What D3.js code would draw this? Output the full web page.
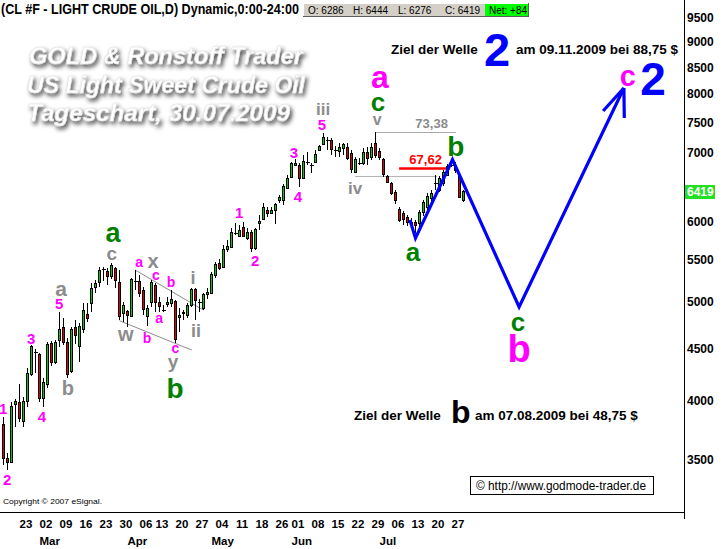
<!DOCTYPE html>
<html><head><meta charset="utf-8">
<script src="https://cdn.jsdelivr.net/npm/d3@7"></script>
<style>body{margin:0;background:#fff}svg{display:block}text{font-family:Arial,"Liberation Sans",sans-serif}</style>
</head><body><svg id="c" width="725" height="549"></svg>
<script>
// ---- data (CL #F daily candles, values in cents) ----
const opens  = [3788,3508,3484,3972,3981,3814,3999,4241,4472,4437,4026,4155,4549,4367,4580,4726,4559,4279,4726,4518,4705,4867,4989,5173,5221,5393,5363,5292,5399,5221,4878,4900,4845,5250,5244,5138,4845,5001,5197,5001,4917,4978,4989,5012,4824,4878,4856,4967,5150,5006,4933,5092,5104,5304,5461,5412,5637,5662,5845,5805,5924,5778,5845,5650,5978,6032,6156,6115,6156,6296,6296,6469,6632,6815,6815,6617,6861,6815,6861,7049,7146,7210,7210,7049,7033,7081,7097,7002,6708,6853,6846,7017,6939,7162,7033,6908,6647,6543,6411,6170,6115,6059,5951,5991,5978,6128,6198,6325,6543,6440,6543,6662,6815,6815,6662,6286];
const highs  = [3857,3556,3990,4017,4155,4035,4309,4539,4497,4457,4212,4569,4580,4590,4889,4824,4611,4726,4802,4770,4989,4989,5221,5256,5412,5412,5399,5461,5410,5375,5001,4911,5280,5375,5316,5173,4967,5256,5221,5058,4967,5058,5138,5023,4933,4911,4989,5162,5160,5035,5104,5162,5351,5473,5511,5688,5752,5911,5978,5951,5991,5911,5884,5911,6087,6254,6198,6198,6254,6368,6528,6662,6861,6908,6846,6971,7017,6846,7049,7129,7325,7258,7242,7113,7162,7162,7162,7049,6939,6923,7081,7097,7162,7338,7081,6923,6662,6558,6440,6198,6142,6087,6045,6018,6156,6296,6397,6440,6662,6647,6738,6830,6908,6861,6693,6444];
const lows   = [3461,3422,3477,3771,3814,3771,3945,4231,4260,3990,3945,4118,4328,4348,4518,4539,4212,4260,4549,4367,4663,4780,4889,5104,5173,5244,5197,5268,5162,4802,4780,4726,4835,5138,5058,4856,4737,4945,4889,4889,4889,4945,4945,4559,4673,4802,4824,4945,4802,4889,4911,5035,5092,5280,5375,5399,5599,5650,5818,5792,5792,5752,5599,5624,5884,6018,6059,6101,5964,6254,6226,6469,6632,6800,6484,6602,6815,6693,6846,7033,7129,7049,6971,6939,6939,6971,6892,6693,6693,6815,6815,6815,6892,6923,6892,6632,6543,6368,6240,5991,5951,5938,5911,5850,5884,6073,6156,6254,6440,6411,6499,6647,6784,6693,6325,6276];
const closes = [3508,3477,3954,3999,3848,3999,4251,4528,4472,4026,4165,4539,4367,4559,4705,4569,4241,4705,4632,4737,4911,4813,5162,5209,5375,5393,5292,5436,5256,4845,4967,4856,5268,5250,5104,4922,4933,5221,5001,4956,4917,5001,5035,4600,4856,4889,4967,5150,5023,5006,5092,5115,5316,5449,5399,5637,5675,5858,5845,5884,5805,5845,5650,5897,6005,6198,6115,6156,6240,6339,6499,6617,6846,6846,6617,6877,6861,6815,6986,7113,7258,7210,7065,7049,7097,7146,6923,6753,6908,6853,7017,6923,7097,6971,6939,6678,6558,6397,6296,6018,6032,5991,5991,5951,6128,6268,6354,6397,6543,6617,6708,6800,6815,6738,6339,6419];
const priceTicks = [3500,4000,4500,5000,5500,6000,6500,7000,7500,8000,8500,9000,9500];
const dayLabels = ["23","02","09","16","23","30","06","13","20","27","04","11","18","26","01","08","15","22","29","06","13","20","27"];
const dayIdx    = [5,10,15,20,25,30,35,39,44,49,54,59,64,69,73,78,83,88,93,98,103,108,113];
const monthLabels = ["Mar","Apr","May","Jun","Jul"];
const monthIdx    = [10,32,53,73,95];
const quote = {O:6286,H:6444,L:6276,C:6419,Net:84};
// annotations: [text, colour, size, candle index, price]
const labels = [
 ["1","M",15,-0.1,3927],["2","M",15,0.9,3346],["3","M",15,6.9,4600],["4","M",15,9.6,3857],["5","M",15,13.9,4978],
 ["a","R",21,14.4,5135],["b","R",20,16.1,4118],["c","R",19,27.1,5560],["a","G",27,27.4,5815],
 ["a","M",14,33.9,5461],["x","R",20,37.4,5461],["c","M",14,38.1,5304],["b","M",14,41.9,5233],["a","M",14,38.9,4813],
 ["w","R",20,30.6,4632],["b","M",14,35.9,4611],["c","M",14,43.0,4490],["y","R",19,42.4,4335],["b","G",28,42.9,4120],
 ["i","R",18,47.4,5280],["ii","R",18,48.1,4694],
 ["1","M",15,58.9,6115],["2","M",15,62.9,5486],["3","M",15,72.6,7002],["4","M",15,73.6,6339],["5","M",15,79.6,7459],
 ["iii","R",17,79.9,7734],["a","M",32,94.1,8258],["c","G",26,93.6,7822],["v","R",16,93.4,7527],["iv","R",17,87.9,6469],
 ["b","G",28,113.1,7113],["a","G",26,102.4,5573],["c","G",26,128.6,4758],["b","M",38,128.9,4508],
 ["c","M",29,156.1,8295],["2","B",46,162.4,8295]
];
const levels = [ // [label, price, from idx, to idx, colour, width]
 ["73,38",7338,93,113.1,"#A8A8A8",1],["67,62",6762,98.9,111.6,"#FF0000",2.5],["",6647,87.9,108.4,"#B4B4B4",1]
];
const trendLines = [[[29,4794],[47.05,4487]],[[32.95,5375],[49.95,4911]]];
const wavePath = [[101.6,6018],[103,5778],[112.25,6900],[128.9,4945],[155.1,8110]];
const arrowBarbs = [[149.9,7699],[155.2,7578]];

const colours = {M:"#FF00FF",G:"#008000",R:"#8C8C8C",B:"#0000FF",K:"#000000"};
const svg = d3.select("#c");
const x = d3.scaleLinear().domain([0,115]).range([3.5,463.5]);
const y = d3.scaleLog().domain([3500,9500]).range([460,18]);
const candles = opens.map((o,i)=>({i,o,h:highs[i],l:lows[i],c:closes[i]}));

// title with blurred drop shadow (single text element per line)
const defs = svg.append("defs");
const f = defs.append("filter").attr("id","sh").attr("x","-10%").attr("y","-40%").attr("width","125%").attr("height","190%");
f.append("feGaussianBlur").attr("in","SourceAlpha").attr("stdDeviation",2).attr("result","b");
f.append("feOffset").attr("in","b").attr("dx",2).attr("dy",2.5).attr("result","o");
f.append("feFlood").attr("flood-color","#2a2a2a").attr("flood-opacity",0.9).attr("result","fl");
f.append("feComposite").attr("in","fl").attr("in2","o").attr("operator","in").attr("result","s");
const fm = f.append("feMerge"); fm.append("feMergeNode").attr("in","s"); fm.append("feMergeNode").attr("in","SourceGraphic");
const titles = [["GOLD & Ronstoff Trader",29,274],["US Light Sweet Crude Oil",27,278],["Tageschart, 30.07.2009",27,263]];
titles.forEach(([t,xx,len],k)=>{
  svg.append("text").attr("x",xx).attr("y",64+k*28.5).text(t).attr("fill","#fff").attr("stroke","#dcdcdc").attr("stroke-width",0.5)
    .attr("filter","url(#sh)").attr("textLength",len).attr("lengthAdjust","spacingAndGlyphs")
    .attr("font-size",23.5).attr("font-weight","bold").attr("font-style","italic");
});

// header
svg.append("text").attr("x",1).attr("y",14).text("(CL #F - LIGHT CRUDE OIL,D) Dynamic,0:00-24:00")
  .attr("font-size",14).attr("font-weight","bold").attr("textLength",298).attr("lengthAdjust","spacingAndGlyphs");
const hb = svg.append("g").attr("shape-rendering","crispEdges");
hb.append("rect").attr("x",303).attr("y",3).attr("width",226).attr("height",14).attr("fill","#D4D0C8");
hb.append("path").attr("d","M303.5,17V3.5H529").attr("stroke","#fff").attr("fill","none");
hb.append("path").attr("d","M303,16.5H528.5V3").attr("stroke","#606060").attr("fill","none");
hb.append("rect").attr("x",485).attr("y",4).attr("width",43).attr("height",12).attr("fill","#00FF00");
[["O: "+quote.O,308],["H: "+quote.H,353],["L: "+quote.L,398],["C: "+quote.C,445],["Net: +"+quote.Net,489]].forEach(([t,xx])=>{
  svg.append("text").attr("x",xx).attr("y",14).text(t).attr("font-size",10).attr("fill","#000");
});

// gray channel lines & levels
const line = d3.line().x(d=>x(d[0])).y(d=>y(d[1]));
trendLines.forEach(tl=>svg.append("path").attr("d",line(tl)).attr("stroke","#8C8C8C").attr("fill","none").attr("stroke-width",1));
levels.forEach(([t,p,a,b,col,w])=>{
  svg.append("line").attr("x1",x(a)).attr("x2",x(b)).attr("y1",Math.round(y(p))+0.5).attr("y2",Math.round(y(p))+0.5)
    .attr("stroke",col).attr("stroke-width",w);
  if(t) svg.append("text").attr("x",x(b)-8).attr("y",y(p)-4).attr("text-anchor","end").text(t)
    .attr("font-size",13).attr("font-weight","bold").attr("fill",col==="#FF0000"?"#FF0000":"#8C8C8C");
});

// candles
const cg = svg.append("g").attr("shape-rendering","crispEdges");
cg.selectAll("line.w").data(candles).join("line").attr("class","w")
  .attr("x1",d=>x(d.i)).attr("x2",d=>x(d.i)).attr("y1",d=>y(d.h)).attr("y2",d=>y(d.l)).attr("stroke","#000");
cg.selectAll("rect.b").data(candles.filter(d=>d.o!==d.c)).join("rect").attr("class","b")
  .attr("x",d=>x(d.i)-1).attr("width",2)
  .attr("y",d=>y(Math.max(d.o,d.c))).attr("height",d=>Math.max(1,y(Math.min(d.o,d.c))-y(Math.max(d.o,d.c))))
  .attr("fill",d=>d.c>d.o?"#00CC00":"#DD0000").attr("stroke","#000");
cg.selectAll("line.d").data(candles.filter(d=>d.o===d.c)).join("line").attr("class","d")
  .attr("x1",d=>x(d.i)-2).attr("x2",d=>x(d.i)+2).attr("y1",d=>Math.round(y(d.o))+0.5).attr("y2",d=>Math.round(y(d.o))+0.5).attr("stroke","#000");

// blue wave projection
svg.append("path").attr("d",line(wavePath)).attr("stroke","#0000FF").attr("stroke-width",3.2).attr("fill","none").attr("stroke-linejoin","miter");
const tip = wavePath[wavePath.length-1];
arrowBarbs.forEach(b=>svg.append("path").attr("d",line([b,tip])).attr("stroke","#0000FF").attr("stroke-width",3.2).attr("fill","none"));

// wave labels
labels.forEach(([t,c,s,i,p])=>{
  const xh = /^[acvwx]+$/.test(t), desc = t==="y";
  svg.append("text").attr("x",x(i)).attr("y",y(p)).attr("dy",desc?"0.16em":xh?"0.26em":"0.36em")
    .attr("text-anchor","middle").attr("font-size",s).attr("font-weight","bold").attr("fill",colours[c]).text(t);
});

// target texts
const tgt = (yy,letter,col,size,x1,x2,x3,yb,rest)=>{
  svg.append("text").attr("x",x1).attr("y",yy).text("Ziel der Welle").attr("font-size",13.5).attr("font-weight","bold");
  svg.append("text").attr("x",x2).attr("y",yb).text(letter).attr("font-size",size).attr("font-weight","bold").attr("fill",col);
  svg.append("text").attr("x",x3).attr("y",yy).text(rest).attr("font-size",13.5).attr("font-weight","bold");
};
tgt(54,"2","#0000FF",47,391,484,516,66,"am 09.11.2009 bei 88,75 $");
tgt(420,"b","#000",32,354,451,475,423,"am 07.08.2009 bei 48,75 $");

// copyright box
svg.append("rect").attr("x",470.5).attr("y",476.5).attr("width",183).attr("height",18).attr("fill","#fff").attr("stroke","#000").attr("shape-rendering","crispEdges");
svg.append("text").attr("x",476).attr("y",490).text("\u00A9 http://www.godmode-trader.de").attr("font-size",13).attr("textLength",170).attr("lengthAdjust","spacingAndGlyphs");
svg.append("text").attr("x",3).attr("y",504).text("Copyright \u00A9 2007 eSignal.").attr("font-size",8).attr("textLength",99).attr("lengthAdjust","spacingAndGlyphs");

// axes
const ag = svg.append("g").attr("shape-rendering","crispEdges");
ag.append("line").attr("x1",684.5).attr("x2",684.5).attr("y1",0).attr("y2",519).attr("stroke","#000");
ag.append("line").attr("x1",0).attr("x2",685).attr("y1",512.5).attr("y2",512.5).attr("stroke","#000");
priceTicks.filter(p=>p!==6500).forEach(p=>svg.append("text").attr("x",687).attr("y",y(p)).attr("dy","0.36em").text(p).attr("font-size",12).attr("font-weight","bold"));
const lastY = y(closes[closes.length-1]);
svg.append("rect").attr("x",685).attr("y",Math.round(lastY)-7).attr("width",30).attr("height",14).attr("fill","#22E022");
svg.append("text").attr("x",687).attr("y",lastY).attr("dy","0.36em").text(closes[closes.length-1]).attr("font-size",12).attr("font-weight","bold").attr("fill","#fff");
dayLabels.forEach((t,k)=>svg.append("text").attr("x",x(dayIdx[k])+2.5).attr("y",528).attr("text-anchor","middle").text(t).attr("font-size",11.5).attr("font-weight","bold"));
monthLabels.forEach((t,k)=>svg.append("text").attr("x",x(monthIdx[k])-4).attr("y",545).text(t).attr("font-size",11.5).attr("font-weight","bold"));
</script></body></html>
